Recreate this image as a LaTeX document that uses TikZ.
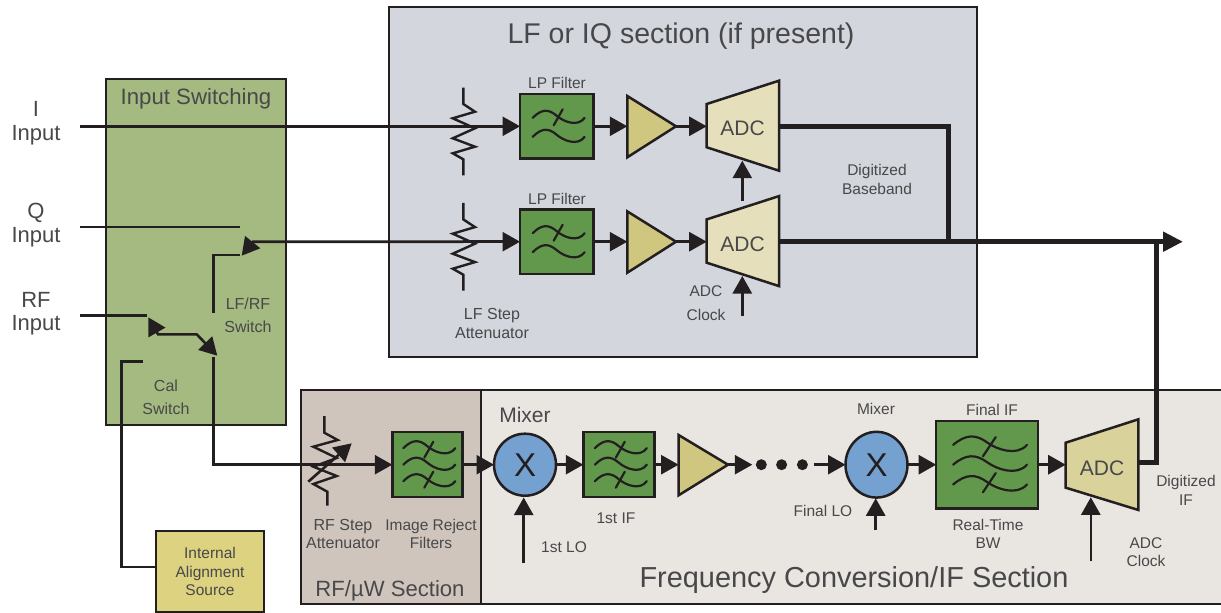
\documentclass[tikz,border=0pt]{standalone}
\usepackage{fontspec}
\setmainfont{Liberation Sans}
\usetikzlibrary{arrows.meta}
\definecolor{ink}{HTML}{231F20}
\definecolor{txt}{HTML}{48484A}
\definecolor{lfpanel}{HTML}{D3D6DC}
\definecolor{swpanel}{HTML}{A5BA80}
\definecolor{rfpanel}{HTML}{CFC5BD}
\definecolor{ifpanel}{HTML}{E9E6E1}
\definecolor{srcfill}{HTML}{DDD27F}
\definecolor{filtfill}{HTML}{62984C}
\definecolor{ampfill}{HTML}{CFC680}
\definecolor{adclight}{HTML}{E5E0BB}
\definecolor{adcdark}{HTML}{D9D29B}
\definecolor{mixfill}{HTML}{74A1CF}
\newcommand{\fsz}[1]{\fontsize{#1}{#1}\selectfont}
\newcommand{\fszl}[2]{\fontsize{#1}{#2}\selectfont}
\tikzset{
  panel/.style={draw=ink,line width=2.5pt,anchor=north west,inner sep=0pt,outer sep=0pt},
  filt/.style={draw=ink,fill=filtfill,line width=2.5pt,inner sep=0pt,outer sep=0pt},
  ampbox/.style={draw=ink,fill=ampfill,line width=2.5pt,line join=miter},
  adcbox/.style={draw=ink,line width=2.5pt,line join=miter},
  mixc/.style={draw=ink,fill=mixfill,line width=2.5pt,circle,minimum size=62pt,inner sep=0pt,outer sep=0pt},
  dotn/.style={circle,fill=ink,minimum size=11pt,inner sep=0pt},
  wire/.style={draw=ink,line width=2.6pt},
  conn/.style={draw=ink,line width=2.6pt,-{Triangle[length=17.5pt,width=19pt]}},
  bus/.style={draw=ink,line width=5pt},
  busarrow/.style={draw=ink,line width=5pt,-{Triangle[length=20pt,width=19pt]}},
  lab/.style={text=txt,align=center,inner sep=0pt,font=\fszl{15.5}{18.5}},
  biglab/.style={text=txt,align=center,inner sep=0pt,font=\fszl{22}{23.5}},
  adctext/.style={text=txt,inner sep=0pt,font=\fsz{21}},
  mixtext/.style={text=ink,inner sep=0pt,font=\fsz{33}},
  icon/.style={draw=ink,line width=2.2pt,line cap=round},
  lpicon/.pic={
    \draw[icon] (-24,-8.5) .. controls (-15,-17.5) and (-8,-17.5) .. (0,-10.5) .. controls (7,-4.5) and (21,1) .. (28,-8.5);
    \draw[icon] (-24,10.5) .. controls (-15,1.5) and (-8,1.5) .. (0,8.5) .. controls (7,14.5) and (21,20) .. (28,10.5);
    \draw[icon] (6,-17) -- (-3,-1);
  },
  tripicon/.pic={
    \draw[icon] (-24,-16.5) .. controls (-15,-25.5) and (-8,-25.5) .. (0,-18.5) .. controls (7,-12.5) and (21,-7) .. (28,-16.5);
    \draw[icon] (-24,0) .. controls (-15,-9) and (-8,-9) .. (0,-2) .. controls (7,4) and (21,9.5) .. (28,0);
    \draw[icon] (-24,16.5) .. controls (-15,7.5) and (-8,7.5) .. (0,14.5) .. controls (7,20.5) and (21,26) .. (28,16.5);
    \draw[icon] (6,-23) -- (-3,-7);
    \draw[icon] (6,7) -- (-3,23);
  },
  lfatten/.pic={
    \draw[draw=ink,line width=2.4pt,line join=miter] (0,-38.8) -- (0,-22.3) -- (11.7,-14.6) -- (-10.6,-8) -- (11.7,2) -- (-10.6,12) -- (11.7,20.4) -- (-10.6,27) -- (0,33) -- (0,49);
  }
}
\begin{document}
\begin{tikzpicture}[x=1pt,y=-1pt]
\useasboundingbox (0,0) rectangle (1221,613);
% panels
\node[panel,fill=lfpanel,minimum width=588pt,minimum height=350pt] (lfsec) at (389,7) {};
\node[panel,fill=swpanel,minimum width=180pt,minimum height=346pt] (swsec) at (106,79) {};
\node[panel,fill=ifpanel,minimum width=745pt,minimum height=214pt] (ifsec) at (481,390) {};
\node[panel,fill=rfpanel,minimum width=180pt,minimum height=214pt] (rfsec) at (301,390) {};
\node[panel,fill=srcfill,minimum width=108pt,minimum height=81pt] (src) at (156,531) {};
% panel titles
\node[text=txt,inner sep=0pt,font=\fsz{28.5}] (tlf) at (681,36) {LF or IQ section (if present)};
\node[text=txt,inner sep=0pt,font=\fsz{22.2}] (tsw) at (196,99) {Input Switching};
\node[text=txt,inner sep=0pt,font=\fsz{22.1}] (trf) at (390,590.5) {RF/µW Section};
\node[text=txt,inner sep=0pt,font=\fsz{28.9}] (tif) at (854,580) {Frequency Conversion/IF Section};
% coordinates
\coordinate (inI) at (80,126.3);
\coordinate (inQ) at (80,227);
\coordinate (swQ) at (240,227);
\coordinate (inRF) at (80,315.7);
\coordinate (swRF) at (146.7,315.7);
\coordinate (sw1knee) at (253,241.7);
\coordinate (sw1tip) at (241.7,255.7);
\coordinate (sw1a) at (240,255);
\coordinate (sw1b) at (213.3,255);
\coordinate (sw1c) at (213.3,313);
\coordinate (sw2tipa) at (148.3,317.3);
\coordinate (sw2j1) at (158,334.3);
\coordinate (sw2j2) at (196.7,334.3);
\coordinate (sw2tipb) at (217.3,355.7);
\coordinate (calA) at (143.3,361.7);
\coordinate (calB) at (121.7,361.7);
\coordinate (calC) at (121.7,567);
\coordinate (rfA) at (213.3,356.7);
\coordinate (rfB) at (213.3,464.7);
% filters
\node[filt,minimum width=73.3pt,minimum height=64.7pt] (f1) at (556.7,126.3) {};
\node[filt,minimum width=73.3pt,minimum height=64.7pt] (f2) at (556.7,241.7) {};
\node[filt,minimum width=70pt,minimum height=65pt] (f3) at (427.3,464.7) {};
\node[filt,minimum width=71pt,minimum height=65pt] (f4) at (618.8,464.7) {};
\node[filt,minimum width=102pt,minimum height=87.6pt] (f5) at (987.2,464.7) {};
\pic at (f1) {lpicon};
\pic at (f2) {lpicon};
\pic at (f3) {tripicon};
\pic at (f4) {tripicon};
\pic[xscale=1.42,yscale=1.2] at (f5) {tripicon};
% amplifiers
\draw[ampbox] (627.3,96) -- (676,126.3) -- (627.3,157.3) -- cycle;
\draw[ampbox] (627.3,211.4) -- (676,241.7) -- (627.3,272.7) -- cycle;
\draw[ampbox] (678.6,435) -- (728,464.7) -- (678.6,495.3) -- cycle;
\coordinate (a1in) at (627.3,126.3); \coordinate (a1out) at (676,126.3);
\coordinate (a2in) at (627.3,241.7); \coordinate (a2out) at (676,241.7);
\coordinate (a3in) at (678.6,464.7); \coordinate (a3out) at (728,464.7);
% ADCs
\draw[adcbox,fill=adclight] (706.7,104) -- (779,80.7) -- (779,170.7) -- (706.7,147.3) -- cycle;
\draw[adcbox,fill=adclight] (706.7,219.4) -- (779,196.1) -- (779,286.1) -- (706.7,262.7) -- cycle;
\draw[adcbox,fill=adcdark] (1065.7,442.7) -- (1138.4,419.3) -- (1138.4,510) -- (1065.7,487.7) -- cycle;
\node[adctext] (adc1) at (742.5,128) {ADC};
\node[adctext] (adc2) at (742.5,244) {ADC};
\node[adctext] (adc3) at (1102,468) {ADC};
\coordinate (adc1in) at (706.7,126.3); \coordinate (adc1out) at (779,126.3); \coordinate (adc1bot) at (742.3,160.7);
\coordinate (adc2in) at (706.7,241.7); \coordinate (adc2out) at (779,241.7); \coordinate (adc2top) at (742.3,200.7); \coordinate (adc2bot) at (742.3,276);
\coordinate (adc3in) at (1065.7,464.7); \coordinate (adc3out) at (1138.4,462); \coordinate (adc3bot) at (1090.8,497.3);
\coordinate (clk2) at (742.3,316);
\coordinate (clk3) at (1090.8,561);
% mixers
\node[mixc] (m1) at (525,464.7) {};
\node[mixc,yscale=1.06] (m2) at (876.5,464.7) {};
\node[mixtext] (mx1) at (525,464.7) {X};
\node[mixtext] (mx2) at (876.5,464.7) {X};
% attenuators
\coordinate (att1) at (463.3,126.3);
\coordinate (att2) at (463.3,241.7);
\pic at (att1) {lfatten};
\pic at (att2) {lfatten};
\draw[draw=ink,line width=2.4pt,line join=miter] (324.3,416) -- (324.3,432.7) -- (337.7,440) -- (313.3,446.7) -- (336.7,458) -- (313.3,466.7) -- (336.7,476) -- (313.3,484) -- (327.3,491.7) -- (327.3,505.7);
\coordinate (rfaA) at (308.3,481.7);
\coordinate (rfaB) at (351.7,443.3);
\draw[conn] (rfaA) -- (rfaB);
% input wires
\draw[conn] (inI) -- (f1.west);
\draw[wire] (inQ) -- (swQ);
\draw[wire] (inRF) -- (swRF);
\draw[conn] (att2) -- (sw1knee) -- (sw1tip);
\draw[wire] (sw1a) -- (sw1b) -- (sw1c);
\draw[draw=ink,line width=2.6pt,{Triangle[length=17.5pt,width=19pt]}-{Triangle[length=17.5pt,width=19pt]}] (sw2tipa) -- (sw2j1) -- (sw2j2) -- (sw2tipb);
\draw[wire] (calA) -- (calB) -- (calC) -- (src.west |- calC);
\draw[conn] (rfA) -- (rfB) -- (f3.west);
\draw[conn] (att2) -- (f2.west);
% row connectors
\draw[conn] (f1.east) -- (a1in);
\draw[conn] (a1out) -- (adc1in);
\draw[conn] (f2.east) -- (a2in);
\draw[conn] (a2out) -- (adc2in);
\draw[conn] (adc2top) -- (adc1bot);
\draw[conn] (clk2) -- (adc2bot);
% digital outputs
\coordinate (j1) at (948,126.3);
\coordinate (j2) at (948,241.7);
\coordinate (outtip) at (1183,241.7);
\coordinate (j3) at (1156.6,241.7);
\coordinate (j4) at (1156.6,462);
\draw[bus,line join=miter] (adc1out) -- (j1) -- (j2);
\draw[busarrow] (adc2out) -- (outtip);
\draw[bus,line join=miter] (adc3out) -- (j4) -- (j3);
% IF chain
\draw[conn] (f3.east) -- (m1.west);
\draw[conn] (m1.east) -- (f4.west);
\draw[conn] (f4.east) -- (a3in);
\coordinate (lo1) at (523.7,562.7);
\coordinate (lo1tip) at (523.7,497.5);
\draw[conn] (lo1) -- (lo1tip);
\coordinate (dots) at (752.3,464.7);
\draw[conn] (a3out) -- (dots);
\node[dotn] (d1) at (761.3,464.7) {};
\node[dotn] (d2) at (781.6,464.7) {};
\node[dotn] (d3) at (802.4,464.7) {};
\coordinate (d4) at (813.8,464.7);
\draw[conn] (d4) -- (m2.west);
\coordinate (lo2) at (875.7,530);
\coordinate (lo2tip) at (875.7,498.3);
\draw[conn] (lo2) -- (lo2tip);
\draw[conn] (m2.east) -- (f5.west);
\draw[conn] (f5.east) -- (adc3in);
\draw[conn] (clk3) -- (adc3bot);
% labels
\node[biglab] (lI) at (36,123) {I\\Input};
\node[biglab] (lQ) at (36,225) {Q\\Input};
\node[biglab] (lRF) at (36,313.5) {RF\\Input};
\node[lab,font=\fszl{16}{23}] (l1) at (248,315) {LF/RF\\Switch};
\node[lab,font=\fszl{16}{23}] (l2) at (166,397) {Cal\\Switch};
\node[lab] (l3) at (557,82.5) {LP Filter};
\node[lab] (l4) at (557,198.5) {LP Filter};
\node[lab,font=\fszl{16}{19}] (l5) at (492,323) {LF Step\\Attenuator};
\node[lab,font=\fszl{15.5}{24}] (l6) at (706,303) {ADC\\Clock};
\node[lab] (l7) at (877,179.5) {Digitized\\Baseband};
\node[lab,font=\fszl{16}{18.5}] (l8) at (343,534) {RF Step\\Attenuator};
\node[lab,font=\fszl{15.5}{18.5}] (l9) at (431,534) {Image Reject\\Filters};
\node[lab,font=\fsz{21}] (l10) at (525,415) {Mixer};
\node[lab] (l11) at (616,518) {1st IF};
\node[lab] (l12) at (564,547.5) {1st LO};
\node[lab] (l13) at (876,408.5) {Mixer};
\node[lab] (l14) at (992,409.5) {Final IF};
\node[lab] (l15) at (823,510.5) {Final LO};
\node[lab] (l16) at (988,534) {Real-Time\\BW};
\node[lab] (l17) at (1146,552) {ADC\\Clock};
\node[lab] (l18) at (1186,490.5) {Digitized\\IF};
\node[lab] (l19) at (210,571.5) {Internal\\Alignment\\Source};
\end{tikzpicture}
\end{document}
